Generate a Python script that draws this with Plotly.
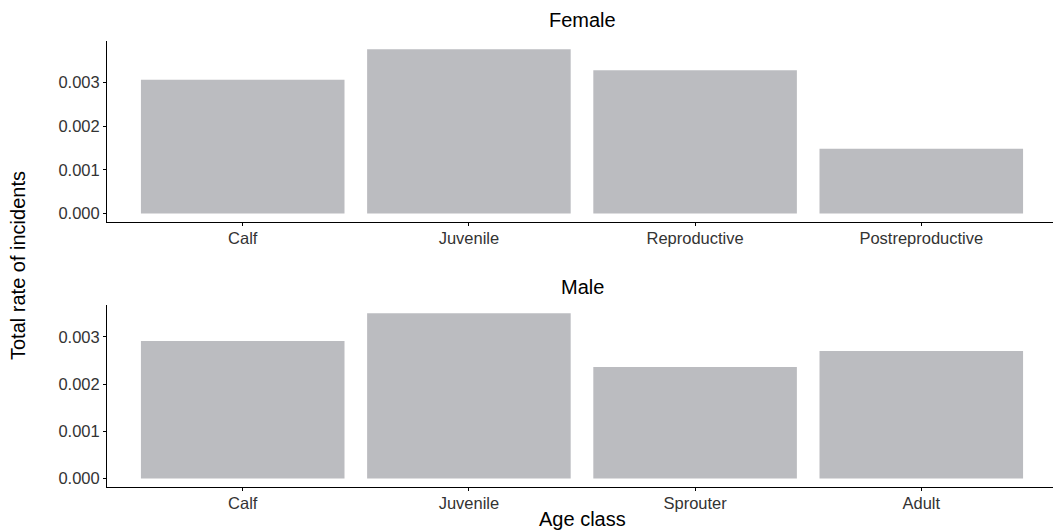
import plotly.graph_objects as go

# data
female_classes = ["Calf", "Juvenile", "Reproductive", "Postreproductive"]
female_rates = [0.00306, 0.00376, 0.00328, 0.00148]

male_classes = ["Calf", "Juvenile", "Sprouter", "Adult"]
male_rates = [0.00291, 0.00350, 0.00236, 0.00270]

bar_col = "#BBBCC0"
font_fam = "Liberation Sans, Arial, sans-serif"
H = 532


def yrange(vals):
    # ggplot style 5% expansion around 0..max
    top = max(vals)
    return [-0.05 * top, top * 1.05]


def py(px):
    # pixel row (from top of figure) -> paper fraction
    return 1 - px / H


fig = go.Figure()
fig.add_trace(go.Bar(x=female_classes, y=female_rates, width=0.9,
                     marker=dict(color=bar_col, line_width=0),
                     xaxis="x", yaxis="y", showlegend=False))
fig.add_trace(go.Bar(x=male_classes, y=male_rates, width=0.9,
                     marker=dict(color=bar_col, line_width=0),
                     xaxis="x2", yaxis="y2", showlegend=False))

ax_common = dict(showgrid=False, zeroline=False, showline=True, linecolor="black",
                 linewidth=1, ticks="outside", ticklen=3, tickcolor="black",
                 automargin=False,
                 tickfont=dict(size=16.5, color="#333333", family=font_fam))
x_common = dict(domain=[0, 1], range=[-0.6, 3.6], ticklabelstandoff=-2, **ax_common)
y_common = dict(tickvals=[0, 0.001, 0.002, 0.003], tickformat=".3f", **ax_common)

txt = dict(xref="paper", yref="paper", showarrow=False, xanchor="center",
           yanchor="middle", font=dict(size=20, color="black"))

# the page body adds an 8px offset, so the margins are shifted to compensate
fig.update_layout(
    width=1061, height=H,
    margin=dict(l=99, r=12, t=0, b=0),
    plot_bgcolor="white", paper_bgcolor="white",
    font=dict(family=font_fam),
    xaxis=dict(anchor="y", **x_common),
    yaxis=dict(domain=[py(213.7), py(33)], anchor="x", range=yrange(female_rates), **y_common),
    xaxis2=dict(anchor="y2", **x_common),
    yaxis2=dict(domain=[py(478.7), py(297)], anchor="x2", range=yrange(male_rates), **y_common),
    annotations=[
        dict(text="Female", x=0.5, y=py(12), **txt),
        dict(text="Male", x=0.5, y=py(279), **txt),
        dict(text="Total rate of incidents", x=(10 - 99) / 950, y=py(258),
             textangle=-90, **txt),
        dict(text="Age class", x=0.5, y=py(511), **txt),
    ],
)

fig.write_html("out.html")
